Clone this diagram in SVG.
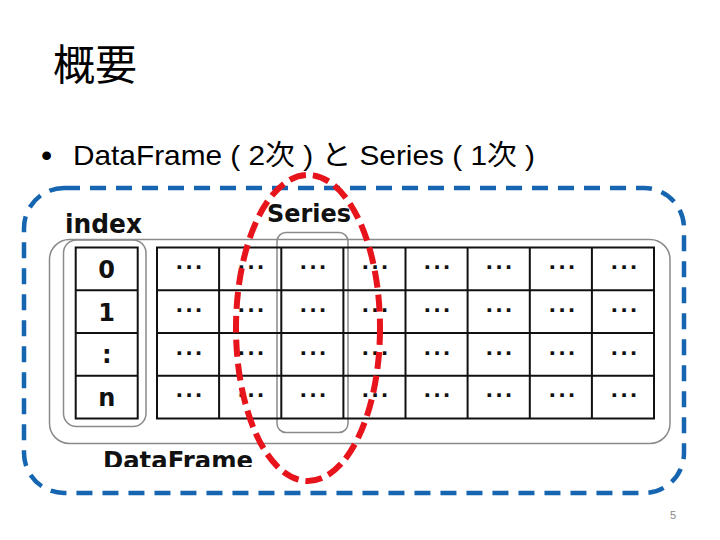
<svg xmlns="http://www.w3.org/2000/svg" width="720" height="540" viewBox="0 0 720 540">
<style>
.gray{fill:none;stroke:#8a8a8a;stroke-width:1.5}
.grid{fill:none;stroke:#111;stroke-width:2}
.lbl{font-family:"DejaVu Sans","Liberation Sans",sans-serif;font-weight:bold;fill:#111}
.dots{font-family:"DejaVu Sans",sans-serif;font-weight:bold;font-size:20px;letter-spacing:2px;fill:#111;text-anchor:middle}
.idx{font-family:"DejaVu Sans",sans-serif;font-weight:bold;font-size:24px;fill:#111;text-anchor:middle}
</style>
<defs>
<clipPath id="dfclip"><rect x="0" y="0" width="720" height="467"/></clipPath>
</defs>
<rect width="720" height="540" fill="#fff"/>
<g id="title">
<text x="53" y="80" font-family="'Noto Sans CJK JP',sans-serif" font-size="42" fill="#000">概要</text>
</g>
<g id="bullet">
<text x="41" y="166" font-family="'Liberation Sans',sans-serif" font-size="32" fill="#000">•</text>
<text x="73" y="165" font-family="'Liberation Sans','Noto Sans CJK JP',sans-serif" font-size="28" fill="#000" textLength="462" lengthAdjust="spacingAndGlyphs">DataFrame ( 2次 ) と Series ( 1次 )</text>
</g>
<g id="dataframe">
<rect class="gray" x="49.5" y="239.5" width="620.5" height="204" rx="20"/>
<g clip-path="url(#dfclip)"><text class="lbl" x="103" y="469" font-size="24" textLength="150" lengthAdjust="spacingAndGlyphs">DataFrame</text></g>
</g>
<g id="index">
<rect class="gray" x="63.5" y="240" width="82.5" height="186.5" rx="13"/>
<text class="lbl" x="65" y="233" font-size="26" textLength="77" lengthAdjust="spacingAndGlyphs">index</text>
<rect class="grid" x="75.7" y="247.5" width="62" height="171"/>
<path class="grid" d="M75.7 290.25H137.7M75.7 333H137.7M75.7 375.75H137.7"/>
<text class="idx" x="106.7" y="278">0</text>
<text class="idx" x="106.7" y="320.5">1</text>
<text class="idx" x="106.7" y="363">:</text>
<text class="idx" x="106.7" y="405.5">n</text>
</g>
<g id="series">
<rect class="gray" x="277" y="232.5" width="71" height="200" rx="9"/>
<text class="lbl" x="267" y="222" font-size="24" textLength="84" lengthAdjust="spacingAndGlyphs">Series</text>
</g>
<g id="grid">
<rect class="grid" x="157" y="247.5" width="497" height="171"/>
<path class="grid" d="M219.1 247.5V418.5M281.3 247.5V418.5M343.4 247.5V418.5M405.5 247.5V418.5M467.6 247.5V418.5M529.8 247.5V418.5M591.9 247.5V418.5M157 290.25H654M157 333H654M157 375.75H654"/>
<g id="cells">
<text class="dots" x="190" y="269">...</text><text class="dots" x="252" y="269">...</text><text class="dots" x="314" y="269">...</text><text class="dots" x="376" y="269">...</text><text class="dots" x="438" y="269">...</text><text class="dots" x="500" y="269">...</text><text class="dots" x="563" y="269">...</text><text class="dots" x="625" y="269">...</text>
<text class="dots" x="190" y="312">...</text><text class="dots" x="252" y="312">...</text><text class="dots" x="314" y="312">...</text><text class="dots" x="376" y="312">...</text><text class="dots" x="438" y="312">...</text><text class="dots" x="500" y="312">...</text><text class="dots" x="563" y="312">...</text><text class="dots" x="625" y="312">...</text>
<text class="dots" x="190" y="355">...</text><text class="dots" x="252" y="355">...</text><text class="dots" x="314" y="355">...</text><text class="dots" x="376" y="355">...</text><text class="dots" x="438" y="355">...</text><text class="dots" x="500" y="355">...</text><text class="dots" x="563" y="355">...</text><text class="dots" x="625" y="355">...</text>
<text class="dots" x="190" y="397">...</text><text class="dots" x="252" y="397">...</text><text class="dots" x="314" y="397">...</text><text class="dots" x="376" y="397">...</text><text class="dots" x="438" y="397">...</text><text class="dots" x="500" y="397">...</text><text class="dots" x="563" y="397">...</text><text class="dots" x="625" y="397">...</text>
</g>
</g>
<g id="blue-frame">
<rect x="24" y="188" width="660" height="305" rx="40" fill="none" stroke="#1565b0" stroke-width="4.5" stroke-dasharray="16 10"/>
</g>
<g id="series-ellipse">
<ellipse cx="308" cy="328" rx="72" ry="153" fill="none" stroke="#e8141b" stroke-width="6" stroke-dasharray="17 7"/>
</g>
<g id="connectors"></g>
<g id="page">
<text x="670" y="519" font-family="'Liberation Sans',sans-serif" font-size="11" fill="#888">5</text>
</g>
</svg>
